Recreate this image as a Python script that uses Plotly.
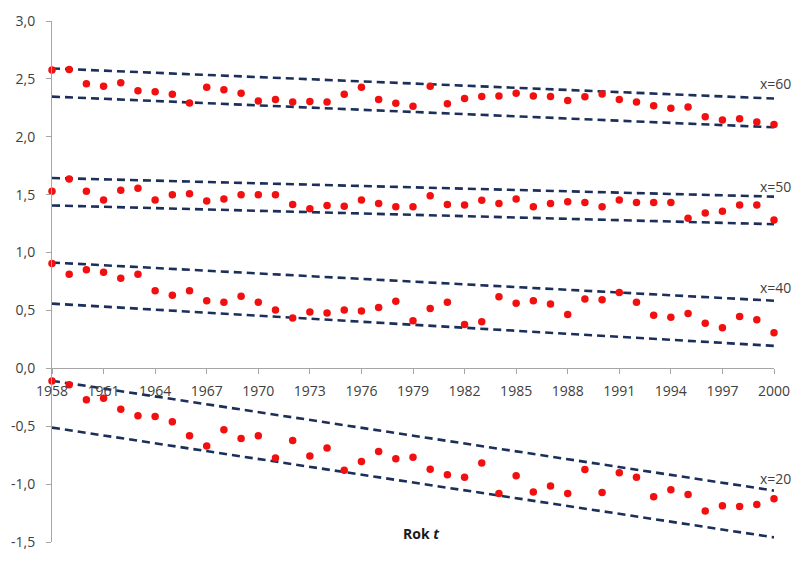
import plotly.graph_objects as go

# Years of observation
years = list(range(1958, 2001))

# Observed values for each age x
obs_x60 = [2.576, 2.582, 2.459, 2.437, 2.467, 2.397, 2.389, 2.367, 2.291, 2.428,
           2.406, 2.375, 2.308, 2.322, 2.300, 2.305, 2.300, 2.367, 2.428, 2.322,
           2.290, 2.264, 2.437, 2.286, 2.331, 2.347, 2.353, 2.375, 2.353, 2.347,
           2.314, 2.345, 2.370, 2.322, 2.300, 2.269, 2.247, 2.258, 2.172, 2.144,
           2.155, 2.127, 2.105]
obs_x50 = [1.530, 1.636, 1.530, 1.455, 1.538, 1.555, 1.455, 1.499, 1.508, 1.446,
           1.463, 1.499, 1.499, 1.499, 1.416, 1.379, 1.407, 1.399, 1.455, 1.424,
           1.396, 1.396, 1.491, 1.416, 1.410, 1.452, 1.424, 1.463, 1.396, 1.424,
           1.438, 1.432, 1.396, 1.455, 1.432, 1.432, 1.432, 1.296, 1.341, 1.357,
           1.410, 1.410, 1.282]
obs_x40 = [0.905, 0.813, 0.852, 0.830, 0.777, 0.813, 0.671, 0.632, 0.671, 0.584,
           0.571, 0.623, 0.571, 0.504, 0.434, 0.487, 0.479, 0.504, 0.496, 0.526,
           0.580, 0.412, 0.517, 0.571, 0.378, 0.403, 0.618, 0.562, 0.584, 0.556,
           0.464, 0.598, 0.593, 0.654, 0.571, 0.459, 0.442, 0.473, 0.389, 0.350,
           0.448, 0.420, 0.308]
obs_x20 = [-0.110, -0.141, -0.272, -0.258, -0.353, -0.409, -0.417, -0.462, -0.582, -0.671,
           -0.531, -0.607, -0.582, -0.774, -0.623, -0.757, -0.688, -0.880, -0.805, -0.718,
           -0.780, -0.768, -0.872, -0.919, -0.941, -0.818, -1.081, -0.927, -1.069, -1.017,
           -1.081, -0.874, -1.073, -0.902, -0.941, -1.109, -1.048, -1.090, -1.232, -1.187,
           -1.193, -1.176, -1.126]

# Band limits (start year, end year) for each age
band_years = [1958, 2000]
upper_x60 = [2.590, 2.330]
lower_x60 = [2.347, 2.082]
upper_x50 = [1.644, 1.483]
lower_x50 = [1.407, 1.245]
upper_x40 = [0.914, 0.584]
lower_x40 = [0.559, 0.194]
upper_x20 = [-0.107, -1.056]
lower_x20 = [-0.512, -1.460]

# Series labels and their vertical placement
series_labels = ["x=60", "x=50", "x=40", "x=20"]
label_y = [2.464, 1.569, 0.699, -0.950]

# Axis ticks
x_ticks = list(range(1958, 2001, 3))
y_ticks = [-1.5, -1.0, -0.5, 0.0, 0.5, 1.0, 1.5, 2.0, 2.5, 3.0]
y_tick_labels = ["-1,5", "-1,0", "-0,5", "0,0", "0,5", "1,0", "1,5", "2,0", "2,5", "3,0"]

LINE_COLOR = "#1B2F5A"
DOT_COLOR = "#F20F0F"
TEXT_COLOR = "#404040"
AXIS_COLOR = "#A6A6A6"
FONT = "Open Sans"

fig = go.Figure()

for upper, lower in [(upper_x60, lower_x60), (upper_x50, lower_x50),
                     (upper_x40, lower_x40), (upper_x20, lower_x20)]:
    for band in (upper, lower):
        fig.add_trace(go.Scatter(
            x=band_years, y=band, mode="lines",
            line=dict(color=LINE_COLOR, width=2.6, dash="8px,5px"),
            showlegend=False, hoverinfo="skip", cliponaxis=False,
        ))

for obs in (obs_x60, obs_x50, obs_x40, obs_x20):
    fig.add_trace(go.Scatter(
        x=years, y=obs, mode="markers",
        marker=dict(color=DOT_COLOR, size=7.5, line=dict(width=0)),
        showlegend=False, cliponaxis=False,
    ))

for text, yv in zip(series_labels, label_y):
    fig.add_annotation(
        x=2000, y=yv, xref="x", yref="y", text=text, showarrow=False,
        xanchor="center", yanchor="middle", xshift=1,
        font=dict(family=FONT, size=14, color=TEXT_COLOR),
    )

fig.add_annotation(
    x=1979.5, y=-1.427, xref="x", yref="y", text="<b>Rok <i>t</i></b>",
    showarrow=False, xanchor="center", yanchor="middle",
    font=dict(family=FONT, size=14, color="#1a1a1a"),
)

fig.update_layout(
    width=801, height=562,
    margin=dict(l=49, r=19, t=12, b=11),
    paper_bgcolor="white", plot_bgcolor="white",
    font=dict(family=FONT, size=14, color=TEXT_COLOR),
    xaxis=dict(
        range=[1958, 2000], tickvals=x_ticks,
        anchor="free", position=1.5 / 4.5,
        showline=True, linecolor=AXIS_COLOR, linewidth=1,
        ticks="outside", ticklen=5, tickcolor=AXIS_COLOR,
        ticklabelstandoff=5,
        showgrid=False, zeroline=False,
        tickfont=dict(family=FONT, size=14, color=TEXT_COLOR),
    ),
    yaxis=dict(
        range=[-1.5, 3.0], tickvals=y_ticks, ticktext=y_tick_labels,
        showline=True, linecolor=AXIS_COLOR, linewidth=1,
        ticks="outside", ticklen=5, tickcolor=AXIS_COLOR,
        ticklabelstandoff=8,
        showgrid=False, zeroline=False,
        tickfont=dict(family=FONT, size=14, color=TEXT_COLOR),
    ),
)

fig.write_html("out.html")
